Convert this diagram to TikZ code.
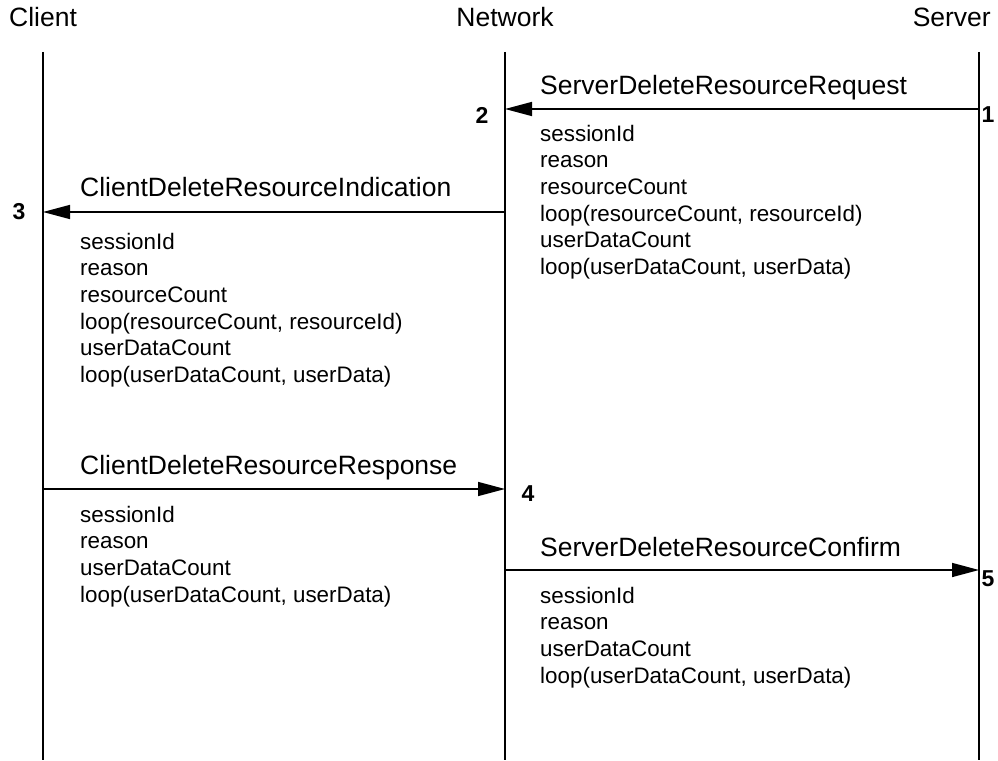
\documentclass[tikz,border=0pt]{standalone}
\usepackage{fontspec}
\setmainfont{Liberation Sans}
\usetikzlibrary{arrows.meta}
\begin{document}
\begin{tikzpicture}[x=1pt,y=-1pt,
  lifeline/.style={line width=1.6pt},
  msg/.style={line width=1.5pt,-{Triangle[length=27pt,width=14pt]}},
  title/.style={inner sep=0pt,font=\fontsize{26.5}{32}\selectfont},
  lbl/.style={inner sep=0pt,anchor=base west,font=\fontsize{26.5}{32}\selectfont},
  param/.style={inner sep=0pt,anchor=base west,font=\fontsize{22.4}{27}\selectfont},
  num/.style={inner sep=0pt,font=\fontsize{23}{27}\selectfont\bfseries}]
\fill[white] (0,0) rectangle (998,760);
\useasboundingbox (0,0) rectangle (998,760);

% titles
\node[title,anchor=base west] (tClient) at (9,27) {Client};
\node[title,anchor=base] (tNet) at (505,27) {Network};
\node[title,anchor=base east] (tServer) at (991,27) {Server};

% lifelines
\coordinate (cTop) at (43,52);  \coordinate (cBot) at (43,760);
\coordinate (nTop) at (505,52); \coordinate (nBot) at (505,760);
\coordinate (sTop) at (979,52); \coordinate (sBot) at (979,760);
\draw[lifeline] (cTop) -- (cBot);
\draw[lifeline] (nTop) -- (nBot);
\draw[lifeline] (sTop) -- (sBot);

% message 1: Server -> Network
\coordinate (s1) at (979,109); \coordinate (n1) at (505,109);
\draw[msg] (s1) -- (n1);
\node[lbl] (l1) at (540,94) {ServerDeleteResourceRequest};
\node[num] (k1) at (988,115) {1};
\node[num] (k2) at (482,115) {2};
\foreach \t [count=\i from 0] in {sessionId,reason,resourceCount,{loop(resourceCount, resourceId)},userDataCount,{loop(userDataCount, userData)}}
  \node[param] (pa\i) at (540,141+\i*26.7) {\t};

% message 2: Network -> Client
\coordinate (n2) at (505,212); \coordinate (c2) at (43,212);
\draw[msg] (n2) -- (c2);
\node[lbl] (l2) at (80,196) {ClientDeleteResourceIndication};
\node[num] (k3) at (19,212) {3};
\foreach \t [count=\i from 0] in {sessionId,reason,resourceCount,{loop(resourceCount, resourceId)},userDataCount,{loop(userDataCount, userData)}}
  \node[param] (pb\i) at (80,249+\i*26.7) {\t};

% message 3: Client -> Network
\coordinate (c3) at (43,489); \coordinate (n3) at (505,489);
\draw[msg] (c3) -- (n3);
\node[lbl] (l3) at (80,474) {ClientDeleteResourceResponse};
\node[num] (k4) at (528,494) {4};
\foreach \t [count=\i from 0] in {sessionId,reason,userDataCount,{loop(userDataCount, userData)}}
  \node[param] (pc\i) at (80,522+\i*26.7) {\t};

% message 4: Network -> Server
\coordinate (n4) at (505,570); \coordinate (s4) at (979,570);
\draw[msg] (n4) -- (s4);
\node[lbl] (l4) at (540,556) {ServerDeleteResourceConfirm};
\node[num] (k5) at (988,579) {5};
\foreach \t [count=\i from 0] in {sessionId,reason,userDataCount,{loop(userDataCount, userData)}}
  \node[param] (pd\i) at (540,603+\i*26.7) {\t};
\end{tikzpicture}
\end{document}
